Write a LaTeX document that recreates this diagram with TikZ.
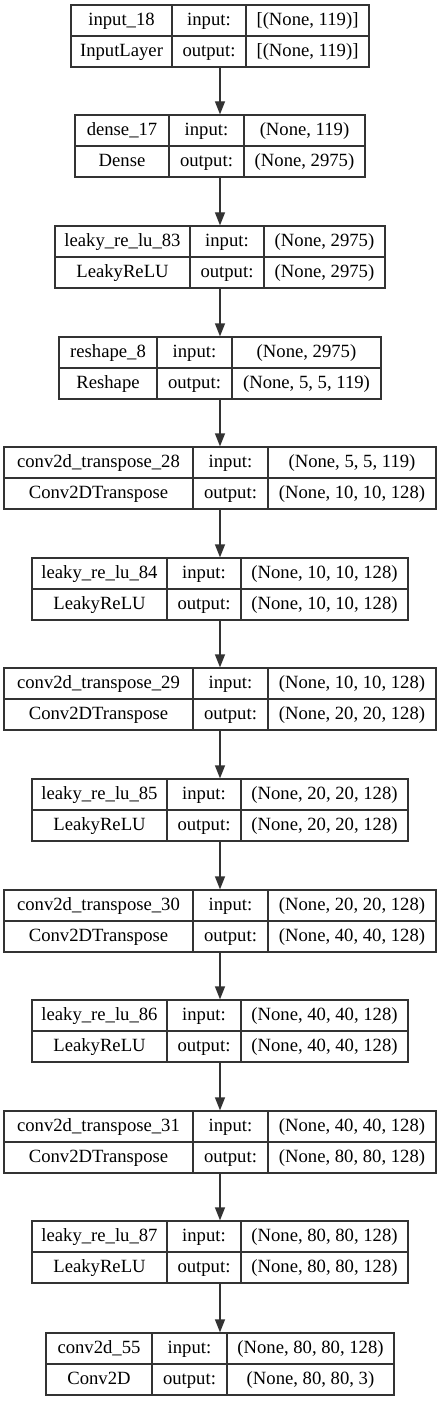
\documentclass[tikz,border=0pt]{standalone}
\usepackage{fontspec}
\setmainfont{Liberation Serif}
\usetikzlibrary{arrows.meta}

\begin{document}
\begin{tikzpicture}[x=0.75pt,y=-0.75pt,
  layer/.style={draw=black!80,line width=1pt,minimum height=46.5pt,inner sep=0pt},
  ln/.style={draw=black!80,line width=1pt},
  txt/.style={font=\fontsize{14}{16}\selectfont,inner sep=0pt,text height=10pt,text depth=1.8pt},
  arr/.style={draw=black!80,line width=1pt,-{Triangle[length=9.75pt,width=7.5pt]}}]
  \useasboundingbox (0,0) rectangle (440,1401);
  % input_18
  \node[layer,minimum width=223.5pt] (in18) at (220,36) {};
  \draw[ln] (172,5)--(172,67) (246,5)--(246,67) (in18.west)--(in18.east);
  \node[txt] (in18n) at (121.5,20.5) {input\_18};
  \node[txt] (in18t) at (121.5,51.5) {InputLayer};
  \node[txt] (in18i) at (209,20.5) {input:};
  \node[txt] (in18o) at (209,51.5) {output:};
  \node[txt] (in18si) at (307.5,20.5) {[(None, 119)]};
  \node[txt] (in18so) at (307.5,51.5) {[(None, 119)]};
  % dense_17
  \node[layer,minimum width=217.5pt] (d17) at (220,146) {};
  \draw[ln] (169,115)--(169,177) (244,115)--(244,177) (d17.west)--(d17.east);
  \node[txt] (d17n) at (122,130.5) {dense\_17};
  \node[txt] (d17t) at (122,161.5) {Dense};
  \node[txt] (d17i) at (206.5,130.5) {input:};
  \node[txt] (d17o) at (206.5,161.5) {output:};
  \node[txt] (d17si) at (304.5,130.5) {(None, 119)};
  \node[txt] (d17so) at (304.5,161.5) {(None, 2975)};
  % leaky_re_lu_83
  \node[layer,minimum width=247.5pt] (lr83) at (220,257) {};
  \draw[ln] (190,226)--(190,288) (264,226)--(264,288) (lr83.west)--(lr83.east);
  \node[txt] (lr83n) at (122.5,241.5) {leaky\_re\_lu\_83};
  \node[txt] (lr83t) at (122.5,272.5) {LeakyReLU};
  \node[txt] (lr83i) at (227,241.5) {input:};
  \node[txt] (lr83o) at (227,272.5) {output:};
  \node[txt] (lr83si) at (324.5,241.5) {(None, 2975)};
  \node[txt] (lr83so) at (324.5,272.5) {(None, 2975)};
  % reshape_8
  \node[layer,minimum width=241.5pt] (rs8) at (220,368) {};
  \draw[ln] (157,337)--(157,399) (232,337)--(232,399) (rs8.west)--(rs8.east);
  \node[txt] (rs8n) at (108,352.5) {reshape\_8};
  \node[txt] (rs8t) at (108,383.5) {Reshape};
  \node[txt] (rs8i) at (194.5,352.5) {input:};
  \node[txt] (rs8o) at (194.5,383.5) {output:};
  \node[txt] (rs8si) at (306.5,352.5) {(None, 2975)};
  \node[txt] (rs8so) at (306.5,383.5) {(None, 5, 5, 119)};
  % conv2d_transpose_28
  \node[layer,minimum width=324pt] (ct28) at (220,478) {};
  \draw[ln] (193,447)--(193,509) (268,447)--(268,509) (ct28.west)--(ct28.east);
  \node[txt] (ct28n) at (98.5,462.5) {conv2d\_transpose\_28};
  \node[txt] (ct28t) at (98.5,493.5) {Conv2DTranspose};
  \node[txt] (ct28i) at (230.5,462.5) {input:};
  \node[txt] (ct28o) at (230.5,493.5) {output:};
  \node[txt] (ct28si) at (352,462.5) {(None, 5, 5, 119)};
  \node[txt] (ct28so) at (352,493.5) {(None, 10, 10, 128)};
  % leaky_re_lu_84
  \node[layer,minimum width=282pt] (lr84) at (220,589) {};
  \draw[ln] (167,558)--(167,620) (241,558)--(241,620) (lr84.west)--(lr84.east);
  \node[txt] (lr84n) at (99.5,573.5) {leaky\_re\_lu\_84};
  \node[txt] (lr84t) at (99.5,604.5) {LeakyReLU};
  \node[txt] (lr84i) at (204,573.5) {input:};
  \node[txt] (lr84o) at (204,604.5) {output:};
  \node[txt] (lr84si) at (324.5,573.5) {(None, 10, 10, 128)};
  \node[txt] (lr84so) at (324.5,604.5) {(None, 10, 10, 128)};
  % conv2d_transpose_29
  \node[layer,minimum width=324pt] (ct29) at (220,699) {};
  \draw[ln] (193,668)--(193,730) (268,668)--(268,730) (ct29.west)--(ct29.east);
  \node[txt] (ct29n) at (98.5,683.5) {conv2d\_transpose\_29};
  \node[txt] (ct29t) at (98.5,714.5) {Conv2DTranspose};
  \node[txt] (ct29i) at (230.5,683.5) {input:};
  \node[txt] (ct29o) at (230.5,714.5) {output:};
  \node[txt] (ct29si) at (352,683.5) {(None, 10, 10, 128)};
  \node[txt] (ct29so) at (352,714.5) {(None, 20, 20, 128)};
  % leaky_re_lu_85
  \node[layer,minimum width=282pt] (lr85) at (220,810) {};
  \draw[ln] (167,779)--(167,841) (241,779)--(241,841) (lr85.west)--(lr85.east);
  \node[txt] (lr85n) at (99.5,794.5) {leaky\_re\_lu\_85};
  \node[txt] (lr85t) at (99.5,825.5) {LeakyReLU};
  \node[txt] (lr85i) at (204,794.5) {input:};
  \node[txt] (lr85o) at (204,825.5) {output:};
  \node[txt] (lr85si) at (324.5,794.5) {(None, 20, 20, 128)};
  \node[txt] (lr85so) at (324.5,825.5) {(None, 20, 20, 128)};
  % conv2d_transpose_30
  \node[layer,minimum width=324pt] (ct30) at (220,921) {};
  \draw[ln] (193,890)--(193,952) (268,890)--(268,952) (ct30.west)--(ct30.east);
  \node[txt] (ct30n) at (98.5,905.5) {conv2d\_transpose\_30};
  \node[txt] (ct30t) at (98.5,936.5) {Conv2DTranspose};
  \node[txt] (ct30i) at (230.5,905.5) {input:};
  \node[txt] (ct30o) at (230.5,936.5) {output:};
  \node[txt] (ct30si) at (352,905.5) {(None, 20, 20, 128)};
  \node[txt] (ct30so) at (352,936.5) {(None, 40, 40, 128)};
  % leaky_re_lu_86
  \node[layer,minimum width=282pt] (lr86) at (220,1031) {};
  \draw[ln] (167,1000)--(167,1062) (241,1000)--(241,1062) (lr86.west)--(lr86.east);
  \node[txt] (lr86n) at (99.5,1015.5) {leaky\_re\_lu\_86};
  \node[txt] (lr86t) at (99.5,1046.5) {LeakyReLU};
  \node[txt] (lr86i) at (204,1015.5) {input:};
  \node[txt] (lr86o) at (204,1046.5) {output:};
  \node[txt] (lr86si) at (324.5,1015.5) {(None, 40, 40, 128)};
  \node[txt] (lr86so) at (324.5,1046.5) {(None, 40, 40, 128)};
  % conv2d_transpose_31
  \node[layer,minimum width=324pt] (ct31) at (220,1142) {};
  \draw[ln] (193,1111)--(193,1173) (268,1111)--(268,1173) (ct31.west)--(ct31.east);
  \node[txt] (ct31n) at (98.5,1126.5) {conv2d\_transpose\_31};
  \node[txt] (ct31t) at (98.5,1157.5) {Conv2DTranspose};
  \node[txt] (ct31i) at (230.5,1126.5) {input:};
  \node[txt] (ct31o) at (230.5,1157.5) {output:};
  \node[txt] (ct31si) at (352,1126.5) {(None, 40, 40, 128)};
  \node[txt] (ct31so) at (352,1157.5) {(None, 80, 80, 128)};
  % leaky_re_lu_87
  \node[layer,minimum width=282pt] (lr87) at (220,1252) {};
  \draw[ln] (167,1221)--(167,1283) (241,1221)--(241,1283) (lr87.west)--(lr87.east);
  \node[txt] (lr87n) at (99.5,1236.5) {leaky\_re\_lu\_87};
  \node[txt] (lr87t) at (99.5,1267.5) {LeakyReLU};
  \node[txt] (lr87i) at (204,1236.5) {input:};
  \node[txt] (lr87o) at (204,1267.5) {output:};
  \node[txt] (lr87si) at (324.5,1236.5) {(None, 80, 80, 128)};
  \node[txt] (lr87so) at (324.5,1267.5) {(None, 80, 80, 128)};
  % conv2d_55
  \node[layer,minimum width=261pt] (c55) at (220,1364) {};
  \draw[ln] (152,1333)--(152,1395) (227,1333)--(227,1395) (c55.west)--(c55.east);
  \node[txt] (c55n) at (99,1348.5) {conv2d\_55};
  \node[txt] (c55t) at (99,1379.5) {Conv2D};
  \node[txt] (c55i) at (189.5,1348.5) {input:};
  \node[txt] (c55o) at (189.5,1379.5) {output:};
  \node[txt] (c55si) at (310.5,1348.5) {(None, 80, 80, 128)};
  \node[txt] (c55so) at (310.5,1379.5) {(None, 80, 80, 3)};
  % edges
  \draw[arr] (in18)--(d17);
  \draw[arr] (d17)--(lr83);
  \draw[arr] (lr83)--(rs8);
  \draw[arr] (rs8)--(ct28);
  \draw[arr] (ct28)--(lr84);
  \draw[arr] (lr84)--(ct29);
  \draw[arr] (ct29)--(lr85);
  \draw[arr] (lr85)--(ct30);
  \draw[arr] (ct30)--(lr86);
  \draw[arr] (lr86)--(ct31);
  \draw[arr] (ct31)--(lr87);
  \draw[arr] (lr87)--(c55);
\end{tikzpicture}
\end{document}
